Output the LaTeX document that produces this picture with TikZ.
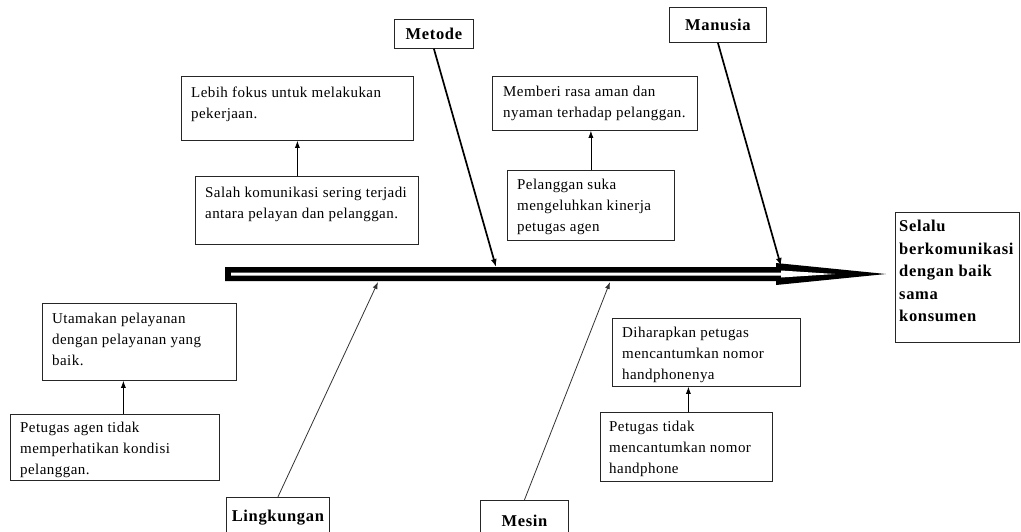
\documentclass[tikz,border=0pt]{standalone}
\usepackage{fontspec}
\setmainfont{Liberation Serif}
\newfontfamily\boxfont[LetterSpace=3]{Liberation Serif}
\newfontfamily\labfont[LetterSpace=4]{Liberation Serif Bold}
\usetikzlibrary{arrows.meta}
\begin{document}
\begin{tikzpicture}[x=1pt,y=-1pt,
  box/.style={draw=black!85, line width=0.8pt, fill=white, inner sep=0pt, anchor=north west},
  txt/.style={inner sep=0pt, anchor=north west, align=left, font=\boxfont\fontsize{15}{21}\selectfont},
  lab/.style={draw=black!85, line width=0.8pt, inner sep=0pt, anchor=north west, font=\labfont\fontsize{16.5}{22}\selectfont},
  smallarr/.style={draw=black, line width=0.7pt, -{Latex[length=7pt,width=5pt]}},
  thickbone/.style={draw=black, line width=1.7pt, -{Latex[length=8pt,width=6pt]}},
  thinbone/.style={draw=black!80, line width=0.8pt, -{Latex[length=7pt,width=5pt]}}
]
\useasboundingbox (0,0) rectangle (1021,531);

% spine
\fill[black] (225,267) -- (776,267) -- (776,263) -- (886,274) -- (776,285) -- (776,281) -- (225,281) -- cycle;
\fill[white] (231,272.5) -- (781,272.5) -- (781,270.5) -- (835,274) -- (781,277.5) -- (781,275.5) -- (231,275.5) -- cycle;

% effect
\node[box, minimum width=124pt, minimum height=130pt] (eff) at (895,212) {};
\node[inner sep=0pt, anchor=north west, align=left, font=\labfont\fontsize{16.5}{22.5}\selectfont] (efft) at ([shift={(4pt,-8pt)}]eff.north west) {Selalu\\berkomunikasi\\dengan baik\\sama\\konsumen};

% category labels
\node[lab, minimum width=79pt, minimum height=29pt] (met) at (394,19) {Metode};
\node[lab, minimum width=97pt, minimum height=35pt] (man) at (669,7) {Manusia};
\node[lab, draw=none, minimum width=103pt, minimum height=40pt] (lin) at (226,497) {Lingkungan};
\draw[draw=black!85, line width=0.8pt] (lin.south west) |- (lin.north east) -- (lin.south east);
\node[lab, draw=none, minimum width=88pt, minimum height=40pt, text depth=0pt] (mes) at (480,500) {Mesin};
\draw[draw=black!85, line width=0.8pt] (mes.south west) |- (mes.north east) -- (mes.south east);

% cause boxes
\node[box, minimum width=232pt, minimum height=64pt] (A) at (181,76) {};
\node[txt] (At) at ([shift={(10pt,-11pt)}]A.north west) {Lebih fokus untuk melakukan\\pekerjaan.};
\node[box, minimum width=223pt, minimum height=68pt] (B) at (195,176) {};
\node[txt] (Bt) at ([shift={(10pt,-11pt)}]B.north west) {Salah komunikasi sering terjadi\\antara pelayan dan pelanggan.};

\node[box, minimum width=205pt, minimum height=54pt] (C) at (492,76) {};
\node[txt] (Ct) at ([shift={(11pt,-10pt)}]C.north west) {Memberi rasa aman dan\\nyaman terhadap pelanggan.};
\node[box, minimum width=167pt, minimum height=70pt] (D) at (507,170) {};
\node[txt] (Dt) at ([shift={(10pt,-9pt)}]D.north west) {Pelanggan suka\\mengeluhkan kinerja\\petugas agen};

\node[box, minimum width=194pt, minimum height=77pt] (E) at (42,303) {};
\node[txt] (Et) at ([shift={(10pt,-10pt)}]E.north west) {Utamakan pelayanan\\dengan pelayanan yang\\baik.};
\node[box, minimum width=209pt, minimum height=66pt] (F) at (10,414) {};
\node[txt] (Ft) at ([shift={(10pt,-8pt)}]F.north west) {Petugas agen tidak\\memperhatikan kondisi\\pelanggan.};

\node[box, minimum width=188pt, minimum height=68pt] (G) at (612,318) {};
\node[txt] (Gt) at ([shift={(10pt,-9pt)}]G.north west) {Diharapkan petugas\\mencantumkan nomor\\handphonenya};
\node[box, minimum width=172pt, minimum height=69pt] (H) at (600,412) {};
\node[txt] (Ht) at ([shift={(9pt,-9pt)}]H.north west) {Petugas tidak\\mencantumkan nomor\\handphone};

% small arrows
\draw[smallarr] (B.north -| A.south) -- (A.south);
\draw[smallarr] (D.north) -- (D.north |- C.south);
\draw[smallarr] ([xshift=8.5pt]F.north) -- ([xshift=8.5pt]F.north |- E.south);
\draw[smallarr] ([xshift=2pt]H.north) -- ([xshift=2pt]H.north |- G.south);

% bones
\coordinate (metEnd) at (496,267);
\coordinate (manEnd) at (781,266);
\coordinate (linEnd) at (378,282);
\coordinate (mesEnd) at (610,282);
\draw[thickbone] (met.south) -- (metEnd);
\draw[thickbone] (man.south) -- (manEnd);
\draw[thinbone] (lin.north) -- (linEnd);
\draw[thinbone] (mes.north) -- (mesEnd);
\end{tikzpicture}
\end{document}
